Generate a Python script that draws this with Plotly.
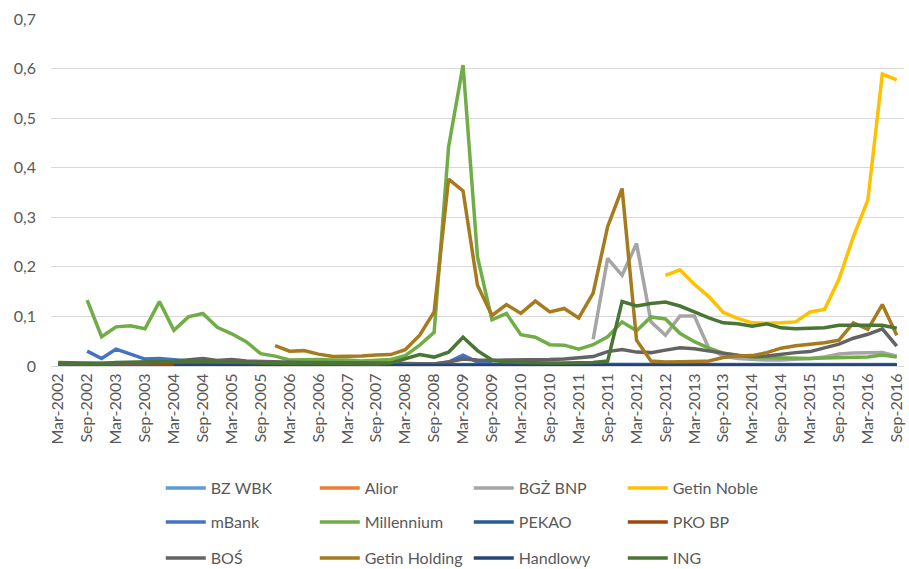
import plotly.graph_objects as go

months = ["Mar", "Jun", "Sep", "Dec"]
quarters = [f"{m}-{y}" for y in range(2002, 2017) for m in months][:59]
tick_labels = quarters[::2]

N = None
bz_wbk = [0.003] * 59
alior = [N] * 40 + [0.002] * 19
bgz_bnp = [N] * 37 + [0.054, 0.217, 0.183, 0.247, 0.089, 0.062, 0.101, 0.101, 0.036, 0.020,
                      0.015, 0.013, 0.012, 0.012, 0.013, 0.015, 0.018, 0.024, 0.026, 0.026,
                      0.027, 0.020]
getin_noble = [N] * 42 + [0.183, 0.194, 0.165, 0.140, 0.108, 0.096, 0.087, 0.086, 0.087, 0.089,
                          0.109, 0.114, 0.175, 0.261, 0.335, 0.589, 0.577]
mbank = [N, N, 0.030, 0.015, 0.034, 0.024, 0.014, 0.015, 0.012, 0.010, 0.009, 0.008, 0.007,
         0.006, 0.005, 0.005, 0.004, 0.004, 0.004, 0.004, 0.004, 0.004, 0.004, 0.004, 0.004,
         0.004, 0.004, 0.008, 0.022, 0.008, 0.004, 0.003, 0.003, 0.003, 0.003, 0.003, 0.003,
         0.003, 0.003, 0.003, 0.003, 0.003, 0.003, 0.003, 0.003, 0.002, 0.002, 0.002, 0.002,
         0.002, 0.002, 0.002, 0.002, 0.002, 0.002, 0.002, 0.002, 0.002, 0.002]
millennium = [N, N, 0.133, 0.059, 0.079, 0.081, 0.075, 0.130, 0.072, 0.099, 0.106, 0.078, 0.065,
              0.049, 0.025, 0.020, 0.012, 0.013, 0.013, 0.012, 0.012, 0.010, 0.012, 0.013, 0.021,
              0.042, 0.068, 0.442, 0.607, 0.220, 0.093, 0.106, 0.063, 0.058, 0.043, 0.042, 0.034,
              0.043, 0.059, 0.089, 0.071, 0.099, 0.095, 0.066, 0.049, 0.036, 0.026, 0.022, 0.018,
              0.017, 0.016, 0.015, 0.015, 0.016, 0.017, 0.017, 0.018, 0.022, 0.018]
pekao = [0.002] * 59
pko_bp = [0.001] * 59
bos = [0.005, 0.005, 0.005, 0.005, 0.005, 0.005, 0.006, 0.007, 0.010, 0.012, 0.015, 0.011, 0.013,
       0.010, 0.009, 0.008, 0.007, 0.007, 0.007, 0.007, 0.006, 0.006, 0.006, 0.006, 0.005, 0.004,
       0.004, 0.008, 0.014, 0.012, 0.011, 0.012, 0.012, 0.012, 0.013, 0.014, 0.016, 0.019, 0.029,
       0.033, 0.028, 0.027, 0.032, 0.037, 0.035, 0.031, 0.026, 0.021, 0.019, 0.020, 0.024, 0.027,
       0.029, 0.036, 0.044, 0.056, 0.064, 0.075, 0.040]
getin_holding = [N] * 15 + [0.041, 0.030, 0.031, 0.024, 0.019, 0.019, 0.020, 0.022, 0.023, 0.033,
                            0.062, 0.109, 0.377, 0.353, 0.163, 0.102, 0.124, 0.106, 0.131, 0.109,
                            0.116, 0.097, 0.147, 0.281, 0.358, 0.052, 0.010, 0.008, 0.008, 0.009,
                            0.010, 0.017, 0.020, 0.021, 0.027, 0.036, 0.041, 0.044, 0.047, 0.052,
                            0.087, 0.074, 0.124, 0.062]
handlowy = [N] * 8 + [0.001] * 51
ing = [0.007, 0.006, 0.006, 0.005, 0.007, 0.008, 0.008, 0.009, 0.008, 0.009, 0.010, 0.008, 0.008,
       0.007, 0.006, 0.005, 0.005, 0.005, 0.005, 0.004, 0.004, 0.004, 0.004, 0.006, 0.015, 0.023,
       0.018, 0.028, 0.058, 0.031, 0.012, 0.008, 0.007, 0.006, 0.006, 0.006, 0.006, 0.007, 0.010,
       0.130, 0.121, 0.126, 0.129, 0.121, 0.109, 0.097, 0.087, 0.085, 0.080, 0.085, 0.077, 0.075,
       0.076, 0.077, 0.082, 0.082, 0.081, 0.082, 0.076]

series = [
    ("BZ WBK", bz_wbk, "#5B9BD5", "legend"),
    ("Alior", alior, "#ED7D31", "legend"),
    ("BGŻ BNP", bgz_bnp, "#A5A5A5", "legend"),
    ("Getin Noble", getin_noble, "#FFC000", "legend"),
    ("mBank", mbank, "#4472C4", "legend2"),
    ("Millennium", millennium, "#70AD47", "legend2"),
    ("PEKAO", pekao, "#255E91", "legend2"),
    ("PKO BP", pko_bp, "#9E480E", "legend2"),
    ("BOŚ", bos, "#636363", "legend3"),
    ("Getin Holding", getin_holding, "#A57B1E", "legend3"),
    ("Handlowy", handlowy, "#264478", "legend3"),
    ("ING", ing, "#4A7535", "legend3"),
]

fig = go.Figure()
for name, vals, color, lg in series:
    fig.add_trace(go.Scatter(
        x=quarters, y=vals, name=name, mode="lines",
        line=dict(color=color, width=3.5), legend=lg, connectgaps=False,
    ))

font = dict(family="Lato, 'Open Sans', sans-serif", size=16, color="#595959")

def legend_row(ypos):
    return dict(
        orientation="h", x=0.1287, xanchor="left", y=ypos, yanchor="middle",
        entrywidth=99, entrywidthmode="pixels", font=font,
        bgcolor="rgba(0,0,0,0)", borderwidth=0, itemwidth=40, traceorder="normal",
    )

fig.update_layout(
    width=909, height=569,
    margin=dict(l=51, r=5, t=19, b=203, autoexpand=False),
    paper_bgcolor="white", plot_bgcolor="white",
    separators=", ",
    font=font,
    showlegend=True,
    legend=legend_row(-0.3516),
    legend2=legend_row(-0.4496),
    legend3=legend_row(-0.5533),
    xaxis=dict(
        type="category", categoryorder="array", categoryarray=quarters,
        range=[-0.5, 58.5], tickmode="array", tickvals=tick_labels, ticktext=tick_labels,
        tickangle=-90, showgrid=False, showline=True, linecolor="#D9D9D9", linewidth=1,
        ticks="", tickfont=font, zeroline=False, automargin=False,
    ),
    yaxis=dict(
        range=[0, 0.7], dtick=0.1, tick0=0, showgrid=True, gridcolor="#D9D9D9", gridwidth=1,
        showline=False, zeroline=False, ticks="", tickfont=font, ticklabelstandoff=14,
        automargin=False,
    ),
)

fig.write_html("out.html", config={"displayModeBar": False},
               post_script="document.body.style.margin='0';")
